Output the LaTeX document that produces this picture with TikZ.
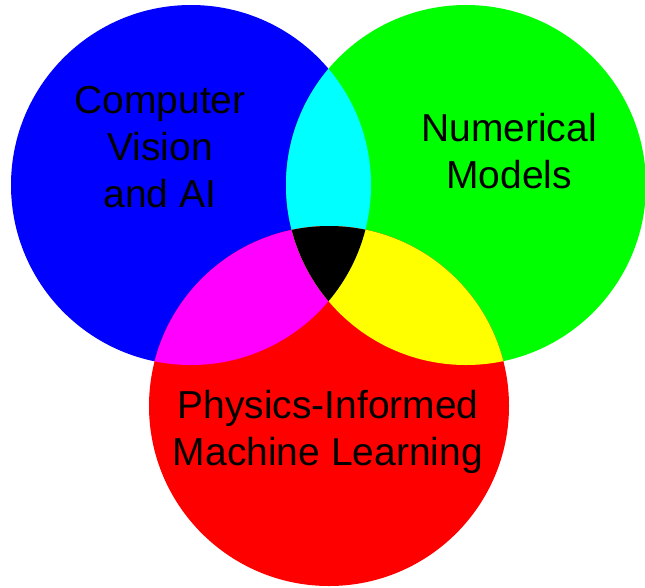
\documentclass[tikz,border=0pt]{standalone}
\usepackage{fontspec}
\setmainfont{Liberation Sans}
\definecolor{cblue}{RGB}{0,0,255}
\definecolor{cgreen}{RGB}{0,255,0}
\definecolor{cred}{RGB}{255,0,0}
\definecolor{ccyan}{RGB}{0,255,255}
\definecolor{cmag}{RGB}{255,0,255}
\definecolor{cyel}{RGB}{255,255,0}
\tikzset{lbl/.style={align=center,font=\fontsize{39}{47}\selectfont,text=black,inner sep=0pt}}
\begin{document}
\begin{tikzpicture}[x=1pt,y=-1pt]
\useasboundingbox (0,0) rectangle (645,587);
\coordinate (B) at (191,185);
\coordinate (G) at (466,185);
\coordinate (R) at (329,406);
\def\rad{180}
\fill[cblue] (B) circle[radius=\rad];
\fill[cgreen] (G) circle[radius=\rad];
\fill[cred] (R) circle[radius=\rad];
\begin{scope}
\clip (B) circle[radius=\rad];
\fill[ccyan] (G) circle[radius=\rad];
\fill[cmag] (R) circle[radius=\rad];
\end{scope}
\begin{scope}
\clip (G) circle[radius=\rad];
\fill[cyel] (R) circle[radius=\rad];
\end{scope}
\begin{scope}
\clip (B) circle[radius=\rad];
\clip (G) circle[radius=\rad];
\fill[black] (R) circle[radius=\rad];
\end{scope}
\node[lbl] (cv) at (160,147) {Computer\\Vision\\and AI};
\node[lbl] (nm) at (509,151) {Numerical\\Models};
\node[lbl] (pi) at (328,432) {Physics-Informed\\Machine Learning};
\end{tikzpicture}
\end{document}
